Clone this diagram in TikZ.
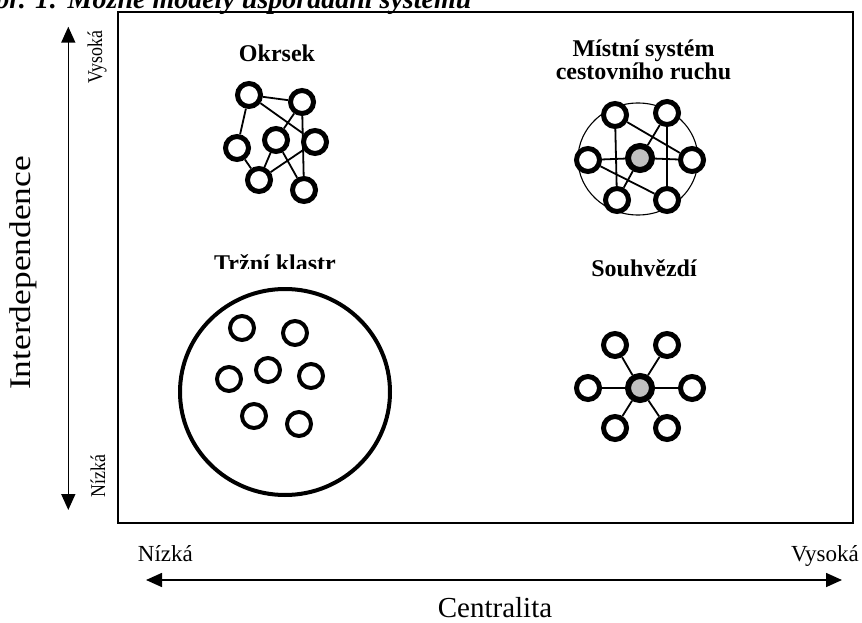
\documentclass[tikz,border=0pt]{standalone}
\usepackage{fontspec}
\setmainfont{Liberation Serif}
\usepackage{graphicx}
\usetikzlibrary{arrows.meta}
\definecolor{hubgrey}{HTML}{C0C0C0}

\begin{document}
\begin{tikzpicture}[x=1pt,y=-1pt,
      dot/.style={circle,draw,fill=white,line width=5pt,minimum size=23pt,inner sep=0pt},
      hub/.style={dot,fill=hubgrey,line width=6pt,minimum size=24pt},
      bead/.style={circle,draw,line width=4pt,minimum size=24pt,inner sep=0pt},
      link/.style={line width=1.8pt},
      lbl/.style={font=\fontsize{24}{21.3}\selectfont\bfseries,inner sep=0pt},
      axlbl/.style={font=\fontsize{23}{23}\selectfont,inner sep=0pt},
      sidelbl/.style={font=\fontsize{21}{21}\selectfont,inner sep=0pt,rotate=90},
      ax/.style={line width=1.6pt,{Triangle[length=16pt,width=14pt]}-{Triangle[length=16pt,width=14pt]}}]
    \useasboundingbox (0,0) rectangle (862,623);
    \node[anchor=base west,inner sep=0pt,font=\fontsize{28}{28}\selectfont\bfseries\itshape]
      (title) at (-25,9) {Obr. 1: Možné modely uspořádání systému};
    \draw[line width=2pt] (118,12) rectangle (853,523);
    % axes
    \coordinate (ytop) at (68.3,26.7);
    \coordinate (ybot) at (68.3,510);
    \draw[ax] (ybot) -- (ytop);
    \coordinate (xlft) at (146,580);
    \coordinate (xrgt) at (842,580);
    \draw[ax] (xlft) -- (xrgt);
    \node[axlbl,anchor=base west] (xlow) at (137.7,561.7) {Nízká};
    \node[axlbl,anchor=base east] (xhigh) at (859,561.7) {Vysoká};
    \node[inner sep=0pt,anchor=base,font=\fontsize{29}{29}\selectfont] (xname) at (495,617) {Centralita};
    \node[sidelbl] (yhigh) at (97,57) {\scalebox{0.85}[1]{Vysoká}};
    \node[sidelbl] (ylow) at (98,476) {\scalebox{0.85}[1]{Nízká}};
    \node[inner sep=0pt,rotate=90,font=\fontsize{30}{30}\selectfont] (yname) at (23,273)
      {\scalebox{1.18}[1]{Interdependence}};
    % Okrsek
    \node[lbl,anchor=base] (okrsek) at (277,61.7) {Okrsek};
    \node[dot] (ok1) at (249,95) {};
    \node[dot] (ok2) at (302,102) {};
    \node[dot] (ok3) at (237,148) {};
    \node[dot] (ok4) at (276,140) {};
    \node[dot] (ok5) at (315,142) {};
    \node[dot] (ok6) at (259,180) {};
    \node[dot] (ok7) at (304,190) {};
    \draw[link] (ok1)--(ok2) (ok1)--(ok3) (ok1)--(ok5) (ok2)--(ok4) (ok2)--(ok7)
      (ok3)--(ok6) (ok4)--(ok6) (ok4)--(ok7) (ok5)--(ok6);
    % Mistni system
    \node[lbl,align=center,anchor=north] (mistni) at (643.5,40) {Místní systém\\cestovního ruchu};
    \draw[line width=1.1pt] (638,159) ellipse [x radius=60,y radius=56];
    \node[hub] (ms0) at (640,158) {};
    \node[dot] (ms1) at (615,115) {};
    \node[dot] (ms2) at (667,113) {};
    \node[dot] (ms3) at (588,160) {};
    \node[dot] (ms4) at (692,160) {};
    \node[dot] (ms5) at (617,200) {};
    \node[dot] (ms6) at (667,200) {};
    \draw[link] (ms1)--(ms5) (ms1)--(ms4) (ms2)--(ms0) (ms2)--(ms6)
      (ms3)--(ms0) (ms0)--(ms4) (ms3)--(ms6) (ms0)--(ms5);
    % Trzni klastr
    \begin{scope}
      \clip (200,240) rectangle (350,268.3);
      \node[lbl,anchor=base] (klastr) at (275,271) {Tržní klastr};
    \end{scope}
    \draw[line width=4pt] (285,392) ellipse [x radius=105,y radius=103];
    \node[bead] (kl1) at (242,328) {};
    \node[bead] (kl2) at (295,333) {};
    \node[bead] (kl3) at (229,379) {};
    \node[bead] (kl4) at (268,370) {};
    \node[bead] (kl5) at (311,376) {};
    \node[bead] (kl6) at (254,416) {};
    \node[bead] (kl7) at (299,424) {};
    % Souhvezdi
    \node[lbl,anchor=base] (souhv) at (644,276.7) {Souhvězdí};
    \node[hub] (sv0) at (640,388) {};
    \node[dot] (sv1) at (615,345) {};
    \node[dot] (sv2) at (667,345) {};
    \node[dot] (sv3) at (588,388) {};
    \node[dot] (sv4) at (692,388) {};
    \node[dot] (sv5) at (615,428) {};
    \node[dot] (sv6) at (667,428) {};
    \foreach \i in {1,...,6} \draw[link] (sv0)--(sv\i);
  \end{tikzpicture}
\end{document}
